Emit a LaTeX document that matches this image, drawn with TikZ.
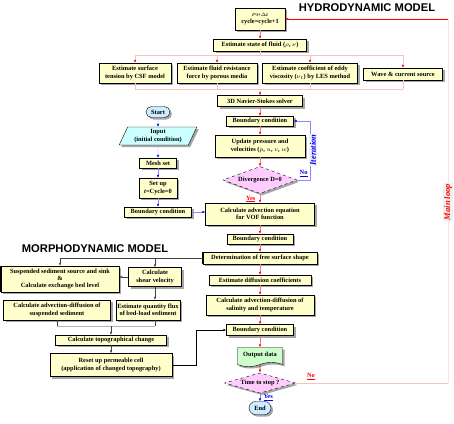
\documentclass[tikz,border=0pt]{standalone}
\usepackage{fontspec}
\setmainfont{Liberation Serif}
\newfontfamily\headfont{Liberation Sans}
\usetikzlibrary{arrows.meta,positioning,shapes.geometric,shapes.misc,shapes.symbols,shadows}
\definecolor{boxyel}{HTML}{FFFFCC}
\definecolor{termblue}{HTML}{CCECFF}
\definecolor{inpcyan}{HTML}{CCFFFF}
\definecolor{decpink}{HTML}{FFCCFF}
\definecolor{outgreen}{HTML}{CCFFCC}

\begin{document}
\begin{tikzpicture}[x=1pt,y=-1pt,font=\fontsize{6.4}{7.4}\selectfont\bfseries,
  boxshadow/.style={drop shadow={shadow xshift=2pt,shadow yshift=-2pt,fill=black!35,opacity=1}},
  box/.style={draw,fill=boxyel,boxshadow,align=center,inner sep=1pt,minimum height=10},
  terminal/.style={draw,rounded rectangle,fill=termblue,boxshadow,inner sep=1.5pt},
  decide/.style={draw,dashed,diamond,aspect=2.7,fill=decpink,boxshadow,inner sep=0pt},
  title/.style={font=\headfont\bfseries\fontsize{11.2}{12}\selectfont},
  rarr/.style={draw=red!55,-{Latex[color=red,length=3pt,width=2.4pt]}},
  pline/.style={draw=red!25},
  parr/.style={draw=red!25,-{Latex[color=red,length=3pt,width=2.4pt]}},
  barr/.style={draw=blue!45,-{Latex[color=blue,length=3pt,width=2.4pt]}},
  karr/.style={draw=black!75,-{Latex[length=3pt,width=2.4pt]}},
  side/.style={rotate=90,fill=black!6,inner sep=1pt,font=\fontsize{8.5}{9}\selectfont\bfseries\itshape}]
\useasboundingbox (0,0) rectangle (454,423);
\node[title] (hydro) at (367,8) {HYDRODYNAMIC MODEL};
\node[title] (morpho) at (95,249) {MORPHODYNAMIC MODEL};

% hydrodynamic part
\node[box,minimum width=50,minimum height=22] (top) at (260,19) {{\itshape\fontsize{5}{6}\selectfont t=t+$\Delta$t}\\cycle=cycle+1};
\node[box,minimum width=93,minimum height=12] (st) at (260,45) {Estimate state of fluid ($\rho$, $\nu$)};
\node[box,minimum width=72,minimum height=20] (csf) at (135,73) {Estimate surface\\tension by CSF model};
\node[box,minimum width=80,minimum height=20] (por) at (217,73) {Estimate fluid resistance\\force by porous media};
\node[box,minimum width=95,minimum height=20] (les) at (310,73) {Estimate coefficient of eddy\\viscosity ($\nu_t$) by LES method};
\node[box,minimum width=79,minimum height=12] (wave) at (403,74) {Wave \& current source};
\node[box,minimum width=85,minimum height=11] (ns) at (260,101) {3D Navier-Stokes solver};
\node[box,minimum width=67] (bc1) at (260,121) {Boundary condition};
\node[box,minimum width=90,minimum height=22] (upd) at (260,146) {Update pressure and\\velocities ($p$, $u$, $v$, $w$)};
\node[decide,minimum width=74,minimum height=27] (div) at (260,180) {Divergence D=0};
\node[box,minimum width=109,minimum height=22] (vof) at (260,214) {Calculate advection equation\\for VOF function};
\node[box,minimum width=66] (bc2) at (260,239) {Boundary condition};
\node[box,minimum width=114,minimum height=12] (fs) at (260,258) {Determination of free surface shape};
\node[box,minimum width=102] (dif) at (260,280) {Estimate diffusion coefficients};
\node[box,minimum width=108,minimum height=20] (sal) at (260,305) {Calculate advection-diffusion of\\salinity and temperature};
\node[box,minimum width=67,minimum height=11] (bc3) at (260,330) {Boundary condition};
\node[draw,tape,tape bend top=none,tape bend height=4pt,fill=outgreen,boxshadow,minimum width=45,minimum height=19] (out) at (260,355) {Output data};
\node[decide,minimum width=71,minimum height=20] (stop) at (260,383) {Time to stop ?};
\node[terminal,minimum width=25,minimum height=13] (end) at (260,408) {End};

% set-up column
\node[terminal,minimum width=27,minimum height=11] (start) at (158,112) {Start};
\node[draw,trapezium,trapezium left angle=65,trapezium right angle=115,trapezium stretches=true,
  fill=inpcyan,boxshadow,align=center,inner sep=1pt,minimum width=78,minimum height=18] (inp) at (158,136) {Input\\(initial condition)};
\node[box,minimum width=37] (mesh) at (158,163) {Mesh set};
\node[box,minimum width=38,minimum height=20] (setup) at (158,188) {Set up\\{\itshape t}=Cycle=0};
\node[box,minimum width=67] (bcl) at (158,212) {Boundary condition};

% morphodynamic part
\node[box,minimum width=118,minimum height=26] (ssrc) at (60,279) {Suspended sediment source and sink\\\&\\Calculate exchange bed level};
\node[box,minimum width=53,minimum height=19] (shear) at (155,277) {Calculate\\shear velocity};
\node[box,minimum width=107,minimum height=20] (adv) at (57,310) {Calculate advection-diffusion of\\suspended sediment};
\node[box,minimum width=64,minimum height=20] (flux) at (148,310) {Estimate quantity flux\\of bed-load sediment};
\node[box,minimum width=111] (topo) at (111,340) {Calculate topographical change};
\node[box,minimum width=122,minimum height=23] (reset) at (111,365) {Reset up permeable cell\\(application of changed topography)};
\foreach \n in {wave,fs,ssrc} \draw[line width=0.9pt] (\n.north west) -- (\n.south west);

% connectors
\coordinate (bar) at (260,55);
\coordinate (col) at (260,89);
\draw[rarr] (top) -- (st);
\draw[pline] (st) -- (bar);
\draw[pline] (csf.north |- bar) -- (wave.north |- bar);
\foreach \n in {csf,por,les,wave} \draw[parr] (\n.north |- bar) -- (\n.north);
\foreach \n in {csf,por,les,wave} \draw[pline] (\n.south) -- (\n.south |- col);
\draw[pline] (csf.south |- col) -- (wave.south |- col);
\draw[parr] (col) -- (ns);
\foreach \a/\b in {ns/bc1,bc1/upd,upd/div,vof/bc2,bc2/fs,fs/dif,dif/sal,sal/bc3,bc3/out}
  \draw[rarr] (\a) -- (\b);
\draw[rarr] (div) -- node[left=1pt,pos=0.6,red]{\underline{Yes}} (vof);
\draw[rarr,draw=red,line width=0.8pt] (out) -- (stop);
\draw[barr] (stop) -- node[right=0pt,pos=0.55,blue]{\underline{Yes}} (end);

\coordinate (it) at (310,0);
\draw[barr] (div.east) -- node[above=0pt,blue]{\underline{No}} (div.east -| it) |- (bc1.east);
\node[side,text=blue] (iter) at (313,150) {Iteration};

\coordinate (ml1) at (448,383);
\coordinate (ml2) at (448,19);
\draw[pline] (stop.east) -- node[above=0pt,pos=0.1,red]{\underline{No}} (ml1);
\draw[draw=red!12] (ml1) -- (ml2);
\draw[rarr,draw=red] (ml2) -- (top.east);
\node[side,text=red] (mloop) at (448,202) {Main loop};

\foreach \a/\b in {start/inp,inp/mesh,mesh/setup,setup/bcl} \draw[barr] (\a) -- (\b);
\draw[barr] (bcl.east) -- (bcl.east -| vof.west);

\draw[karr] (fs.west) -| (ssrc.north);
\draw[karr] (fs.west -| shear) -- (shear.north);
\draw[karr] (shear.west) -- (shear.west -| ssrc.east);
\draw[karr] (shear.south) -- (shear.south |- flux.north);
\coordinate (mj) at (111,326);
\draw[black!75] (adv.south) -- (adv.south |- mj);
\draw[black!75] (flux.south -| shear) -- (shear |- mj);
\draw[black!30] (adv.south |- mj) -- (shear |- mj);
\draw[karr] (mj) -- (topo.north);
\draw[karr] (topo) -- (reset);
\draw[karr,draw=black] (reset.east) -- ++(24,0) |- (bc3.west);
\end{tikzpicture}
\end{document}
